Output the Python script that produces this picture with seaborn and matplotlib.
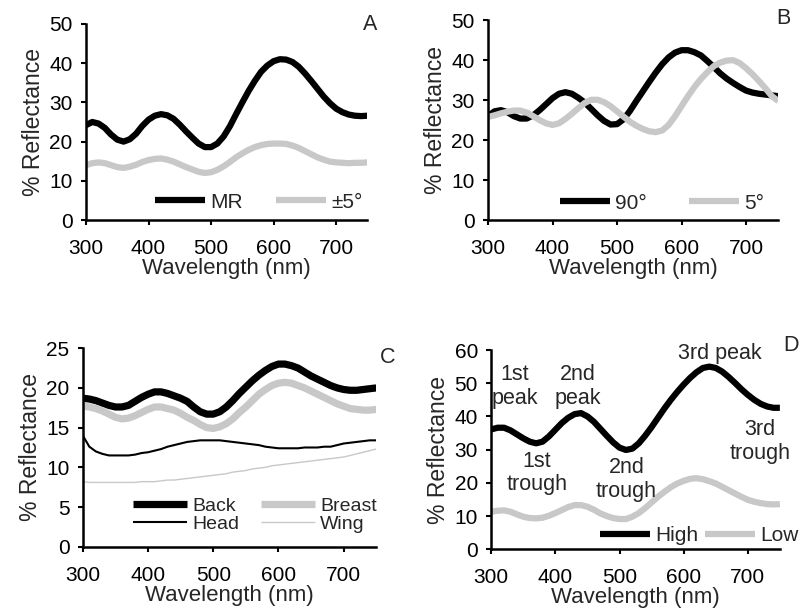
import numpy as np
import pandas as pd
import matplotlib
matplotlib.use("Agg")
import matplotlib.pyplot as plt
import seaborn as sns

wavelength = list(range(300, 751, 10))

a_mr = [24.2, 25.0, 24.6, 23.5, 21.8, 20.5, 20.0, 20.6, 22.0, 24.0, 25.6, 26.6, 27.0, 26.7, 25.8, 24.3,
        22.6, 21.0, 19.5, 18.6, 18.6, 19.5, 21.3, 23.9, 27.0, 30.0, 32.9, 35.5, 37.8, 39.4, 40.5, 41.0,
        40.9, 40.3, 39.1, 37.4, 35.5, 33.5, 31.5, 29.8, 28.4, 27.5, 26.9, 26.6, 26.5, 26.6]
a_pm5 = [14.0, 14.5, 14.7, 14.5, 14.0, 13.5, 13.3, 13.6, 14.1, 14.8, 15.3, 15.6, 15.7, 15.4, 14.9, 14.2,
         13.5, 12.9, 12.3, 12.0, 12.2, 12.8, 13.7, 14.8, 16.0, 17.0, 17.9, 18.6, 19.1, 19.4, 19.5, 19.5,
         19.4, 19.0, 18.4, 17.6, 16.8, 16.0, 15.4, 14.9, 14.7, 14.6, 14.5, 14.6, 14.6, 14.7]

b_90 = [26.0, 27.2, 27.5, 27.0, 26.0, 25.4, 25.4, 26.2, 27.5, 29.0, 30.5, 31.6, 32.0, 31.6, 30.6, 29.4,
        27.8, 26.2, 24.8, 23.9, 24.0, 25.2, 27.3, 29.8, 32.2, 34.6, 36.9, 39.0, 40.7, 41.9, 42.5, 42.5,
        42.0, 41.2, 39.8, 38.3, 36.7, 35.4, 34.3, 33.3, 32.4, 31.9, 31.6, 31.4, 31.2, 31.0]
b_5 = [25.8, 26.2, 26.7, 27.1, 27.4, 27.4, 26.9, 26.0, 25.0, 24.2, 23.8, 24.2, 25.3, 26.6, 28.0, 29.3,
       30.1, 30.1, 29.5, 28.5, 27.2, 25.9, 24.6, 23.6, 22.8, 22.2, 22.0, 22.4, 23.8, 26.0, 28.5, 31.0,
       33.3, 35.3, 37.0, 38.5, 39.4, 39.9, 40.0, 39.3, 38.0, 36.5, 34.8, 33.0, 31.0, 29.8]

c_back = [18.7, 18.6, 18.4, 18.1, 17.8, 17.6, 17.6, 17.8, 18.3, 18.8, 19.2, 19.5, 19.5, 19.3, 19.0, 18.7,
          18.3, 17.6, 17.0, 16.7, 16.7, 17.0, 17.6, 18.4, 19.3, 20.1, 20.9, 21.6, 22.2, 22.7, 23.0, 23.0,
          22.8, 22.5, 22.0, 21.5, 21.1, 20.7, 20.3, 20.0, 19.8, 19.7, 19.7, 19.8, 19.9, 20.0]
c_breast = [17.7, 17.6, 17.4, 17.1, 16.7, 16.3, 16.1, 16.2, 16.5, 16.9, 17.3, 17.6, 17.6, 17.4, 17.2, 16.8,
            16.3, 15.9, 15.4, 15.0, 14.9, 15.1, 15.5, 16.1, 16.9, 17.6, 18.4, 19.2, 19.8, 20.3, 20.6, 20.7,
            20.6, 20.3, 20.0, 19.6, 19.2, 18.8, 18.4, 18.0, 17.7, 17.4, 17.3, 17.2, 17.2, 17.3]
c_head = [14.0, 12.6, 12.0, 11.7, 11.5, 11.5, 11.5, 11.5, 11.6, 11.8, 11.9, 12.1, 12.3, 12.6, 12.8, 13.0,
          13.2, 13.3, 13.4, 13.4, 13.4, 13.4, 13.3, 13.2, 13.1, 13.0, 12.9, 12.8, 12.6, 12.5, 12.4, 12.4,
          12.4, 12.4, 12.5, 12.5, 12.5, 12.6, 12.6, 12.8, 13.0, 13.1, 13.2, 13.3, 13.4, 13.4]
c_wing = [8.2, 8.1, 8.1, 8.1, 8.1, 8.1, 8.1, 8.1, 8.1, 8.2, 8.2, 8.2, 8.3, 8.4, 8.4, 8.5,
          8.6, 8.7, 8.8, 8.9, 9.0, 9.1, 9.2, 9.4, 9.5, 9.6, 9.8, 9.9, 10.0, 10.2, 10.3, 10.4,
          10.5, 10.6, 10.7, 10.8, 10.9, 11.0, 11.1, 11.2, 11.3, 11.5, 11.7, 11.9, 12.1, 12.3]

d_high = [36.1, 36.6, 36.6, 35.8, 34.6, 33.4, 32.4, 31.9, 32.4, 34.0, 36.0, 38.0, 39.6, 40.7, 41.0, 40.0,
          38.4, 36.3, 34.2, 32.2, 30.6, 29.9, 30.3, 31.9, 34.2, 36.8, 39.6, 42.4, 45.0, 47.4, 49.6, 51.6,
          53.3, 54.6, 55.0, 54.6, 53.5, 51.9, 50.1, 48.2, 46.5, 45.0, 43.8, 43.0, 42.6, 42.6]
d_low = [11.3, 11.6, 11.7, 11.3, 10.5, 9.8, 9.4, 9.3, 9.5, 10.1, 10.9, 11.8, 12.7, 13.3, 13.3, 12.8,
         11.9, 10.8, 10.0, 9.4, 9.1, 9.1, 9.8, 10.9, 12.4, 14.1, 15.8, 17.3, 18.7, 19.8, 20.6, 21.2,
         21.4, 21.1, 20.5, 19.8, 18.8, 17.8, 16.8, 15.8, 14.9, 14.3, 13.9, 13.6, 13.5, 13.6]

x_ticks = [300, 400, 500, 600, 700]
d_notes = ["1st\npeak", "2nd\npeak", "3rd peak", "1st\ntrough", "2nd\ntrough", "3rd\ntrough"]
d_note_x = [337, 435, 657, 371, 511, 719]
d_note_y = [49, 49, 59, 23, 21, 32.5]

sns.set_style("ticks")
plt.rcParams["font.family"] = ["Liberation Sans", "DejaVu Sans"]
FS = 15
LFS = 16

BLACK = "#000000"
GRAY = "#c8c8c8"

fig = plt.figure(figsize=(8.04, 6.13), dpi=100)
axA = fig.add_axes([0.107, 0.641, 0.350, 0.320])
axB = fig.add_axes([0.607, 0.641, 0.361, 0.326])
axC = fig.add_axes([0.103, 0.108, 0.365, 0.324])
axD = fig.add_axes([0.611, 0.104, 0.359, 0.325])


def draw(ax, series, ymax, ystep):
    for name, vals, color, lw in series:
        df = pd.DataFrame({"Wavelength": wavelength, "R": vals})
        sns.lineplot(data=df, x="Wavelength", y="R", ax=ax, color=color, lw=lw,
                     label=name, solid_joinstyle="round", solid_capstyle="butt")
    ax.set_xlim(300, 750)
    ax.set_ylim(0, ymax)
    ax.set_xticks(x_ticks)
    ax.set_yticks(np.arange(0, ymax + 0.1, ystep))
    ax.set_xlabel("Wavelength (nm)", fontsize=LFS, labelpad=0)
    ax.set_ylabel("% Reflectance", fontsize=LFS + 0.5, labelpad=3)
    for s in ["top", "right"]:
        ax.spines[s].set_visible(False)
    for s in ["left", "bottom"]:
        ax.spines[s].set_linewidth(1.8)
        ax.spines[s].set_color("black")
    ax.tick_params(axis="both", direction="out", length=3.6, width=1.5, labelsize=FS,
                   colors="black")
    ax.tick_params(axis="x", pad=10)
    ax.tick_params(axis="y", pad=6)


draw(axA, [("MR", a_mr, BLACK, 4.5), ("±5°", a_pm5, GRAY, 4.5)], 50, 10)
draw(axB, [("90°", b_90, BLACK, 4.5), ("5°", b_5, GRAY, 4.5)], 50, 10)
draw(axC, [("Back", c_back, BLACK, 5.2), ("Breast", c_breast, GRAY, 5.2),
           ("Head", c_head, BLACK, 1.5), ("Wing", c_wing, GRAY, 1.0)], 25, 5)
draw(axD, [("High", d_high, BLACK, 4.5), ("Low", d_low, GRAY, 4.5)], 60, 10)

base = dict(frameon=False, ncol=2, handletextpad=0.25, borderpad=0, borderaxespad=0,
            loc="center left")
axA.legend(bbox_to_anchor=(0.245, 0.092), handlelength=2.4, fontsize=FS,
           columnspacing=1.6, **base)
axB.legend(bbox_to_anchor=(0.248, 0.085), handlelength=2.4, fontsize=FS,
           columnspacing=2.0, **base)
hC, lC = axC.get_legend_handles_labels()
order = [0, 2, 1, 3]
axC.legend([hC[i] for i in order], [lC[i] for i in order],
           bbox_to_anchor=(0.171, 0.16), handlelength=2.8, fontsize=14,
           columnspacing=1.1, labelspacing=0.0, **base)
axD.legend(bbox_to_anchor=(0.377, 0.07), handlelength=2.4, fontsize=FS,
           columnspacing=0.3, **base)

for name, x, y in zip(d_notes, d_note_x, d_note_y):
    axD.text(x, y, name, ha="center", va="center", fontsize=15.5, linespacing=1.15)

for ax, letter, px, py in [(axA, "A", 1.01, 0.995), (axB, "B", 1.017, 1.01),
                           (axC, "C", 1.04, 0.955), (axD, "D", 1.04, 1.025)]:
    ax.text(px, py, letter, transform=ax.transAxes, ha="center", va="center", fontsize=15.5)

fig.savefig("out.png", dpi=100)
